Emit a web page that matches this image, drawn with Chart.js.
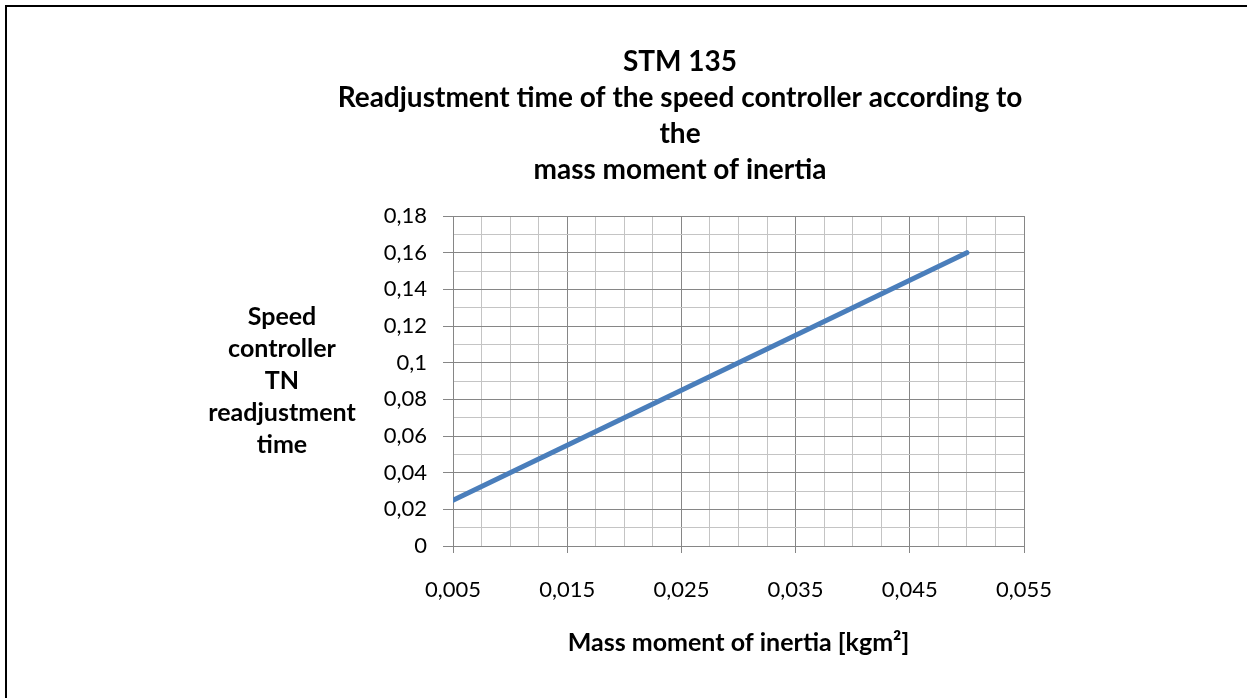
<!DOCTYPE html>
<html lang="en">

<head>
    <meta charset="UTF-8" />
    <title>STM 135</title>
    <script src="https://cdn.jsdelivr.net/npm/chart.js"></script>
    <style>
        body { margin: 0; background: #fff; }
        #moldura { position: absolute; left: 5px; top: 5px; width: 1300px; height: 800px; border-left: 2px solid #000; border-top: 2px solid #000; }
        #grafico { position: absolute; left: 0; top: 0; }
    </style>
</head>

<body>
    <div id="moldura"></div>
    <canvas id="grafico" width="1247" height="698"></canvas>

<script>
    // dados
    var inercia = [0.005, 0.01, 0.015, 0.02, 0.025, 0.03, 0.035, 0.04, 0.045, 0.05];
    var tempo_tn = [0.025, 0.04, 0.055, 0.07, 0.085, 0.1, 0.115, 0.13, 0.145, 0.16];

    var titulo = ['STM 135', 'Readjustment time of the speed controller according to', 'the', 'mass moment of inertia'];
    var titulo_y = ['Speed', 'controller', 'TN', 'readjustment', 'time'];
    var titulo_x = 'Mass moment of inertia [kgm\u00B2]';

    var fonte = 'Lato';
    var cor_major = '#868686';
    var cor_minor = '#c4c4c4';

    function virgula(v, casas) {
        return String(parseFloat(v.toFixed(casas))).replace('.', ',');
    }
    function xMajor(v) { return Math.round((v - 0.005) / 0.0025) % 4 === 0; }
    function yMajor(v) { return Math.round(v / 0.01) % 2 === 0; }

    // titulo do eixo y na horizontal
    const tituloY = {
        id: 'tituloY',
        afterDraw(chart) {
            const ctx = chart.ctx;
            ctx.save();
            ctx.fillStyle = '#000';
            ctx.font = 'bold 25px ' + fonte;
            ctx.textAlign = 'center';
            ctx.textBaseline = 'middle';
            for (let i = 0; i < titulo_y.length; i++) {
                ctx.fillText(titulo_y[i], 282, 317 + i * 32);
            }
            ctx.restore();
        }
    };

    new Chart(document.getElementById('grafico'), {
        type: 'scatter',
        data: {
            datasets: [{
                label: 'TN',
                data: inercia.map((x, i) => ({ x: x, y: tempo_tn[i] })),
                showLine: true,
                borderColor: '#4a7ebb',
                backgroundColor: '#4a7ebb',
                borderWidth: 5,
                borderCapStyle: 'round',
                pointRadius: 0
            }]
        },
        options: {
            responsive: false,
            animation: false,
            layout: { padding: { left: 336, right: 223, top: 0, bottom: 0 } },
            plugins: {
                legend: { display: false },
                tooltip: { enabled: false },
                title: {
                    display: true,
                    text: titulo,
                    color: '#000',
                    font: { family: fonte, size: 28, weight: 'bold', lineHeight: 1.286 },
                    padding: { top: 44, bottom: 28 }
                }
            },
            scales: {
                x: {
                    type: 'linear',
                    min: 0.005,
                    max: 0.055,
                    afterFit: function (s) { s.height = 152; },
                    border: { color: cor_major },
                    grid: {
                        color: c => xMajor(c.tick.value) ? cor_major : cor_minor,
                        tickColor: c => xMajor(c.tick.value) ? cor_major : 'rgba(0,0,0,0)',
                        tickLength: 7
                    },
                    ticks: {
                        stepSize: 0.0025,
                        autoSkip: false,
                        maxRotation: 0,
                        padding: 24,
                        color: '#000',
                        font: { family: fonte, size: 22 },
                        callback: v => xMajor(v) ? virgula(v, 4) : ''
                    },
                    title: {
                        display: true,
                        text: titulo_x,
                        color: '#000',
                        font: { family: fonte, size: 25, weight: 'bold', lineHeight: 1.2 },
                        padding: { top: 0, bottom: 40 }
                    }
                },
                y: {
                    min: 0,
                    max: 0.18,
                    afterFit: function (s) { s.width = 117; },
                    border: { color: cor_major },
                    grid: {
                        color: c => yMajor(c.tick.value) ? cor_major : cor_minor,
                        tickColor: c => yMajor(c.tick.value) ? cor_major : 'rgba(0,0,0,0)',
                        tickLength: 10
                    },
                    ticks: {
                        stepSize: 0.01,
                        autoSkip: false,
                        padding: 16,
                        color: '#000',
                        font: { family: fonte, size: 22 },
                        callback: v => yMajor(v) ? virgula(v, 3) : ''
                    }
                }
            }
        },
        plugins: [tituloY]
    });
</script>
</body>

</html>
